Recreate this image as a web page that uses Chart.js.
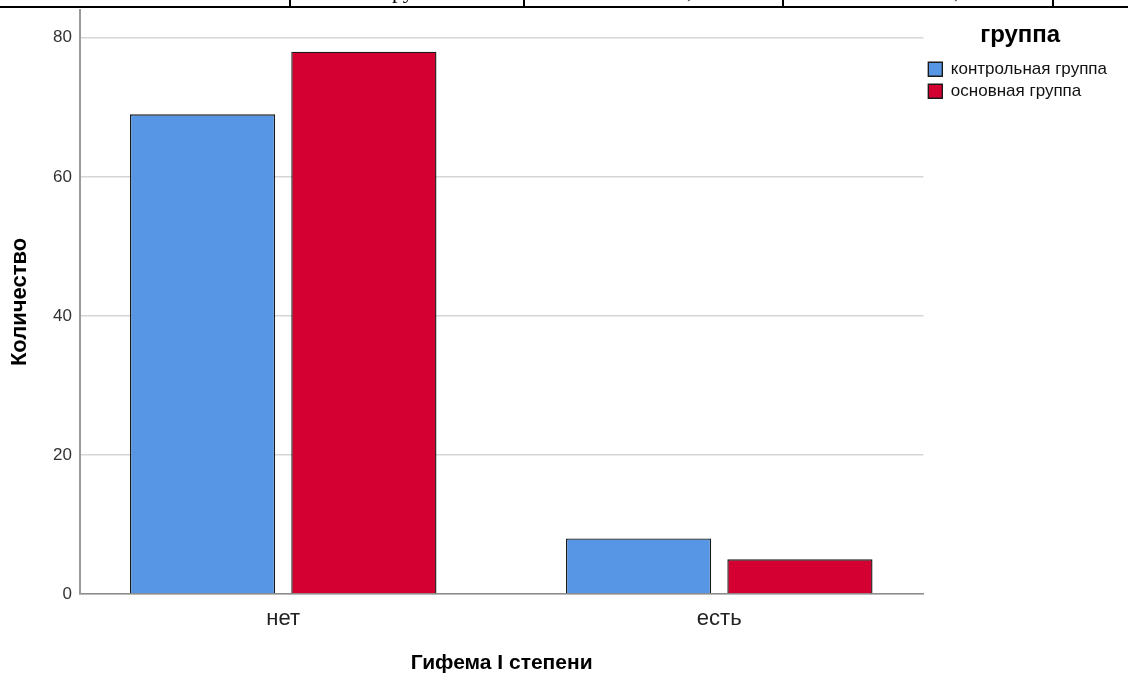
<!DOCTYPE html>
<html lang="ru">
<head>
<meta charset="utf-8">
<title>Гифема I степени</title>
<script src="https://cdn.jsdelivr.net/npm/chart.js@4/dist/chart.umd.min.js"></script>
<style>
    html, body { margin: 0; padding: 0; background: #fff; }
    #wrap { position: relative; width: 1128px; height: 677px; overflow: hidden; }
    #grafico { position: absolute; left: 0; top: 0; }
    /* кусок таблицы над графиком */
    #tabela { position: absolute; left: 0; top: 0; width: 1128px; height: 6px;
              border-bottom: 2px solid #000; overflow: hidden;
              font-family: "Liberation Serif", "Times New Roman", serif; font-size: 22px; }
    #tabela div { position: absolute; top: 0; height: 6px; border-left: 2px solid #000; overflow: hidden; }
    #tabela span { position: absolute; top: -20px; line-height: 22px; white-space: nowrap; }
</style>
</head>
<body>
<div id="wrap">
    <canvas id="grafico" width="1128" height="677"></canvas>
    <div id="tabela">
        <div style="left:289px;width:232px"><span style="left:92px">группа</span></div>
        <div style="left:523px;width:257px"><span style="left:140px">50,0%</span></div>
        <div style="left:782px;width:268px"><span style="left:148px">50,0%</span></div>
        <div style="left:1052px;width:76px"></div>
    </div>
</div>
<script>
// категории и значения
const categorias = ['нет', 'есть'];
const grupos = ['контрольная группа', 'основная группа'];
const controle = [69, 8];
const principal = [78, 5];
const yTicks = [0, 20, 40, 60, 80];

const cores = ['#5796e4', '#d50032'];
const fonte = '"Liberation Sans", Arial, sans-serif';

function pontos(valores) {
    return valores.map((v, i) => ({ x: i, y: v }));
}

function serie(i, valores) {
    return {
        label: grupos[i],
        data: pontos(valores),
        backgroundColor: cores[i],
        borderColor: '#1a1a1a',
        borderWidth: 1.4,
        categoryPercentage: 0.74,
        barPercentage: 0.9,
    };
}

const ctx = document.getElementById('grafico').getContext('2d');

const chart = new Chart(ctx, {
    type: 'bar',
    data: {
        datasets: [serie(0, controle), serie(1, principal)],
    },
    options: {
        responsive: false,
        animation: false,
        devicePixelRatio: 1,
        layout: {
            padding: { top: 10, right: 11, left: 0, bottom: 0 },
        },
        scales: {
            x: {
                type: 'linear',
                offset: false,
                min: -0.466,
                max: 1.468,
                afterBuildTicks: (scale) => {
                    scale.ticks = categorias.map((c, i) => ({ value: i }));
                },
                afterFit: (scale) => { scale.height = 83; },
                ticks: {
                    callback: (v) => categorias[v],
                    color: '#222',
                    font: { family: fonte, size: 22 },
                    padding: 12,
                },
                grid: { display: false, drawTicks: false },
                border: { display: true, color: '#8c8c8c', width: 1.5 },
                title: {
                    display: true,
                    text: 'Гифема I степени',
                    color: '#000',
                    font: { family: fonte, size: 21, weight: 'bold' },
                    padding: { top: 0, bottom: 1 },
                },
            },
            y: {
                min: 0,
                max: 84,
                afterBuildTicks: (scale) => {
                    scale.ticks = yTicks.map(v => ({ value: v }));
                },
                afterFit: (scale) => {
                    scale.width = 80;
                    scale.paddingTop = 0;
                    scale.paddingBottom = 0;
                },
                ticks: {
                    color: '#333',
                    font: { family: fonte, size: 17 },
                    padding: 8,
                },
                grid: { color: '#d6d6d6', lineWidth: 1.5, drawTicks: false },
                border: { display: true, color: '#9a9a9a', width: 2 },
                title: {
                    display: true,
                    text: 'Количество',
                    color: '#000',
                    font: { family: fonte, size: 22, weight: 'bold' },
                    padding: { top: 7, bottom: 0 },
                },
            },
        },
        plugins: {
            legend: {
                display: true,
                position: 'right',
                align: 'start',
                title: {
                    display: true,
                    text: 'группа',
                    color: '#000',
                    font: { family: fonte, size: 24, weight: 'bold' },
                    padding: { top: 13, bottom: 4 },
                },
                labels: {
                    boxWidth: 14,
                    boxHeight: 14,
                    padding: 5,
                    color: '#111',
                    font: { family: fonte, size: 17 },
                },
            },
            tooltip: { enabled: false },
        },
    },
});
</script>
</body>
</html>
